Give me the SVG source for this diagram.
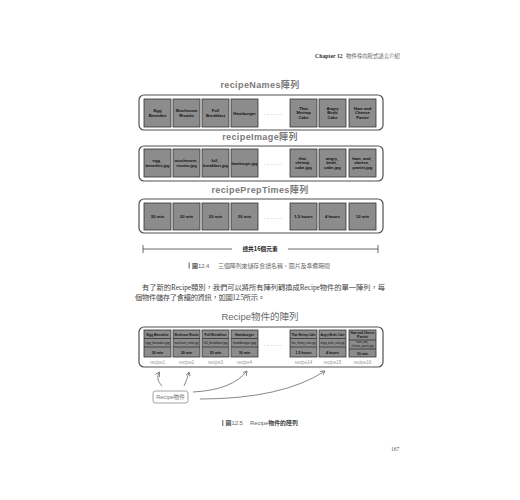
<svg xmlns="http://www.w3.org/2000/svg" width="520" height="500" viewBox="0 0 520 500">
<defs>
<style>
.cont{fill:#fff;stroke:#505050;stroke-width:1.2}
.cell{fill:#8c8c8c;stroke:#333;stroke-width:0.8}
.sep{stroke:#333;stroke-width:0.8}
.ct{font-family:"Liberation Sans","Noto Sans CJK TC",sans-serif;font-size:4.2px;font-weight:bold;fill:#111;text-anchor:middle}
.ct2{font-family:"Liberation Sans","Noto Sans CJK TC",sans-serif;font-size:3.6px;font-weight:bold;fill:#111;text-anchor:middle}
.ct3{font-family:"Liberation Sans","Noto Sans CJK TC",sans-serif;font-size:2.7px;fill:#111;text-anchor:middle}
.title{font-family:"Liberation Sans","Noto Sans CJK TC",sans-serif;font-size:9px;font-weight:bold;fill:#7a7a7a;text-anchor:middle;letter-spacing:0.4px}
.dots{font-family:"Liberation Sans",sans-serif;font-size:6px;fill:#666;text-anchor:middle;letter-spacing:1.6px}
.lbl{font-family:"Liberation Sans",sans-serif;font-size:4.6px;fill:#9a9a9a;text-anchor:middle}
.para{font-family:"Liberation Serif","Noto Sans CJK TC",serif;font-size:7.3px;fill:#444}
.cap{font-family:"Liberation Sans","Noto Sans CJK TC",sans-serif;font-size:5.9px;fill:#666}
.arr{fill:none;stroke:#7a7a7a;stroke-width:0.9}
</style>
<marker id="ah" viewBox="0 0 8 8" refX="7" refY="4" markerWidth="5" markerHeight="5" markerUnits="userSpaceOnUse" orient="auto">
<path d="M0,0 L7,4 L0,8" fill="none" stroke="#7a7a7a" stroke-width="1.4"/>
</marker>
</defs>
<rect width="520" height="500" fill="#fff"/>

<g id="header">
<text x="315" y="57.5" font-family="Liberation Serif,serif" font-size="5.8" font-weight="bold" fill="#333">Chapter 12</text>
<text x="346" y="57.5" font-family="Noto Sans CJK TC,sans-serif" font-size="5.4" fill="#666">物件導向程式語言介紹</text>
</g>

<!-- Figure 12.4 -->
<g id="recipeNames">
<text class="title" x="260" y="88">recipeNames陣列</text>
<rect class="cont" x="139" y="95" width="244" height="35" rx="5"/>
<rect class="cell" x="144" y="99" width="27" height="28"/>
<rect class="cell" x="173" y="99" width="27" height="28"/>
<rect class="cell" x="202" y="99" width="27" height="28"/>
<rect class="cell" x="231" y="99" width="27" height="28"/>
<rect class="cell" x="290" y="99" width="27" height="28"/>
<rect class="cell" x="319" y="99" width="27" height="28"/>
<rect class="cell" x="349" y="99" width="27" height="28"/>
<text class="ct" x="157.5" y="112">Egg</text><text class="ct" x="157.5" y="117">Benedict</text>
<text class="ct" x="186.5" y="112">Mushroom</text><text class="ct" x="186.5" y="117">Risotto</text>
<text class="ct" x="215.5" y="112">Full</text><text class="ct" x="215.5" y="117">Breakfast</text>
<text class="ct" x="244.5" y="114.5">Hamburger</text>
<text class="dots" x="274" y="115">......</text>
<text class="ct" x="303.5" y="109.5">Thai</text><text class="ct" x="303.5" y="114.3">Shrimp</text><text class="ct" x="303.5" y="119.1">Cake</text>
<text class="ct" x="332.5" y="109.5">Angry</text><text class="ct" x="332.5" y="114.3">Birds</text><text class="ct" x="332.5" y="119.1">Cake</text>
<text class="ct" x="362.5" y="109.5">Ham and</text><text class="ct" x="362.5" y="114.3">Cheese</text><text class="ct" x="362.5" y="119.1">Panini</text>
</g>

<g id="recipeImage">
<text class="title" x="260" y="139.5">recipeImage陣列</text>
<rect class="cont" x="139" y="146" width="244" height="35" rx="5"/>
<rect class="cell" x="144" y="149" width="27" height="28"/>
<rect class="cell" x="173" y="149" width="27" height="28"/>
<rect class="cell" x="202" y="149" width="27" height="28"/>
<rect class="cell" x="231" y="149" width="27" height="28"/>
<rect class="cell" x="290" y="149" width="27" height="28"/>
<rect class="cell" x="319" y="149" width="27" height="28"/>
<rect class="cell" x="349" y="149" width="27" height="28"/>
<text class="ct" x="157.5" y="162">egg_</text><text class="ct" x="157.5" y="167" textLength="24" lengthAdjust="spacingAndGlyphs">benedict.jpg</text>
<text class="ct" x="186.5" y="162">mushroom_</text><text class="ct" x="186.5" y="167">risotto.jpg</text>
<text class="ct" x="215.5" y="162">full_</text><text class="ct" x="215.5" y="167" textLength="25" lengthAdjust="spacingAndGlyphs">breakfast.jpg</text>
<text class="ct" x="244.5" y="164.5" textLength="26" lengthAdjust="spacingAndGlyphs">hamburger.jpg</text>
<text class="dots" x="274" y="165">......</text>
<text class="ct" x="303.5" y="159.5">thai_</text><text class="ct" x="303.5" y="164.3">shrimp_</text><text class="ct" x="303.5" y="169.1">cake.jpg</text>
<text class="ct" x="332.5" y="159.5">angry_</text><text class="ct" x="332.5" y="164.3">birds_</text><text class="ct" x="332.5" y="169.1">cake.jpg</text>
<text class="ct" x="362.5" y="159.5">ham_and_</text><text class="ct" x="362.5" y="164.3">cheese_</text><text class="ct" x="362.5" y="169.1">panini.jpg</text>
</g>

<g id="recipePrepTimes">
<text class="title" x="260" y="193">recipePrepTimes陣列</text>
<rect class="cont" x="139" y="199" width="244" height="34" rx="5"/>
<rect class="cell" x="144" y="203" width="27" height="27"/>
<rect class="cell" x="173" y="203" width="27" height="27"/>
<rect class="cell" x="202" y="203" width="27" height="27"/>
<rect class="cell" x="231" y="203" width="27" height="27"/>
<rect class="cell" x="290" y="203" width="27" height="27"/>
<rect class="cell" x="319" y="203" width="27" height="27"/>
<rect class="cell" x="349" y="203" width="27" height="27"/>
<text class="ct" x="157.5" y="218">30 min</text>
<text class="ct" x="186.5" y="218">30 min</text>
<text class="ct" x="215.5" y="218">20 min</text>
<text class="ct" x="244.5" y="218">30 min</text>
<text class="dots" x="274" y="218.5">......</text>
<text class="ct" x="303.5" y="218">1.5 hours</text>
<text class="ct" x="332.5" y="218">4 hours</text>
<text class="ct" x="362.5" y="218">10 min</text>
</g>

<g id="total">
<path d="M143,245 V253 M143,249 H232 M288,249 H378 M378,245 V253" stroke="#444" stroke-width="0.8" fill="none"/>
<text x="260" y="251" font-family="Noto Sans CJK TC,sans-serif" font-size="5.7" font-weight="bold" fill="#222" text-anchor="middle">總共16個元素</text>
</g>

<g id="caption1">
<rect x="188.5" y="262.5" width="1.4" height="6" fill="#888"/>
<text class="cap" x="192" y="267.5"><tspan font-weight="bold" fill="#444">圖</tspan>12.4</text>
<text class="cap" x="218" y="267.5" textLength="112">三個陣列來儲存食譜名稱、圖片及準備時間</text>
</g>

<g id="paragraph">
<text class="para" x="142" y="290" textLength="243">有了新的Recipe類別，我們可以將所有陣列轉換成Recipe物件的單一陣列，每</text>
<text class="para" x="135" y="300" textLength="130">個物件儲存了食譜的資訊，如圖12.5所示。</text>
</g>

<!-- Figure 12.5 -->
<g id="recipeObjects">
<text x="260" y="319.5" font-family="Liberation Sans,Noto Sans CJK TC,sans-serif" font-size="9.5" fill="#6a6a6a" text-anchor="middle">Recipe物件的陣列</text>
<rect class="cont" x="139" y="327" width="244" height="40" rx="5"/>
<g id="recipe1">
<rect class="cell" x="144" y="330" width="27" height="27"/>
<path class="sep" d="M144,338.5 H171 M144,347 H171"/>
<text class="ct2" x="157.5" y="335.5" textLength="22" lengthAdjust="spacingAndGlyphs">Egg Benedict</text>
<text class="ct3" x="157.5" y="343.7" textLength="24" lengthAdjust="spacingAndGlyphs">egg_benedict.jpg</text>
<text class="ct2" x="157.5" y="353.5">30 min</text>
<text class="lbl" x="157.5" y="364">recipe1</text>
</g>
<g id="recipe2">
<rect class="cell" x="173" y="330" width="27" height="27"/>
<path class="sep" d="M173,338.5 H200 M173,347 H200"/>
<text class="ct2" x="186.5" y="335.5" textLength="24" lengthAdjust="spacingAndGlyphs">Mushroom Risotto</text>
<text class="ct3" x="186.5" y="343.7" textLength="24" lengthAdjust="spacingAndGlyphs">mushroom_risotto.jpg</text>
<text class="ct2" x="186.5" y="353.5">30 min</text>
<text class="lbl" x="186.5" y="364">recipe2</text>
</g>
<g id="recipe3">
<rect class="cell" x="202" y="330" width="27" height="27"/>
<path class="sep" d="M202,338.5 H229 M202,347 H229"/>
<text class="ct2" x="215.5" y="335.5" textLength="22" lengthAdjust="spacingAndGlyphs">Full Breakfast</text>
<text class="ct3" x="215.5" y="343.7" textLength="24" lengthAdjust="spacingAndGlyphs">full_breakfast.jpg</text>
<text class="ct2" x="215.5" y="353.5">20 min</text>
<text class="lbl" x="215.5" y="364">recipe3</text>
</g>
<g id="recipe4">
<rect class="cell" x="231" y="330" width="27" height="27"/>
<path class="sep" d="M231,338.5 H258 M231,347 H258"/>
<text class="ct2" x="244.5" y="335.5">Hamburger</text>
<text class="ct3" x="244.5" y="343.7" textLength="23" lengthAdjust="spacingAndGlyphs">hamburger.jpg</text>
<text class="ct2" x="244.5" y="353.5">30 min</text>
<text class="lbl" x="244.5" y="364">recipe4</text>
</g>
<text class="dots" x="274" y="346">......</text>
<g id="recipe14">
<rect class="cell" x="290" y="330" width="27" height="27"/>
<path class="sep" d="M290,338.5 H317 M290,347 H317"/>
<text class="ct2" x="303.5" y="335.5" textLength="24" lengthAdjust="spacingAndGlyphs">Thai Shrimp Cake</text>
<text class="ct3" x="303.5" y="343.7" textLength="24" lengthAdjust="spacingAndGlyphs">thai_shrimp_cake.jpg</text>
<text class="ct2" x="303.5" y="353.5">1.5 hours</text>
<text class="lbl" x="303.5" y="364">recipe14</text>
</g>
<g id="recipe15">
<rect class="cell" x="319" y="330" width="27" height="27"/>
<path class="sep" d="M319,338.5 H346 M319,347 H346"/>
<text class="ct2" x="332.5" y="335.5" textLength="24" lengthAdjust="spacingAndGlyphs">Angry Birds Cake</text>
<text class="ct3" x="332.5" y="343.7" textLength="24" lengthAdjust="spacingAndGlyphs">angry_birds_cake.jpg</text>
<text class="ct2" x="332.5" y="353.5">4 hours</text>
<text class="lbl" x="332.5" y="364">recipe15</text>
</g>
<g id="recipe16">
<rect class="cell" x="349" y="330" width="27" height="27"/>
<path class="sep" d="M349,340 H376 M349,349 H376"/>
<text class="ct2" x="362.5" y="334" textLength="24" lengthAdjust="spacingAndGlyphs">Ham and Cheese</text>
<text class="ct2" x="362.5" y="338.3">Panini</text>
<text class="ct3" x="362.5" y="343.3">ham_and_</text>
<text class="ct3" x="362.5" y="347.3" textLength="22" lengthAdjust="spacingAndGlyphs">cheese_panini.jpg</text>
<text class="ct2" x="362.5" y="354.5">10 min</text>
<text class="lbl" x="362.5" y="364">recipe16</text>
</g>
</g>

<g id="recipeObjLabel">
<rect x="153" y="391" width="35" height="12" rx="2.5" fill="#fff" stroke="#8a8a8a" stroke-width="0.8"/>
<text x="170.5" y="399.2" font-family="Liberation Sans,Noto Sans CJK TC,sans-serif" font-size="5.6" fill="#777" text-anchor="middle">Recipe物件</text>
</g>

<g id="connectors">
<path class="arr" d="M162,386 Q155,379 159.5,372" marker-end="url(#ah)"/>
<path class="arr" d="M184,386 Q187,380 189,372" marker-end="url(#ah)"/>
<path class="arr" d="M193,392 Q232,390 247,371" marker-end="url(#ah)"/>
<path class="arr" d="M200,399 Q282,399 325,371" marker-end="url(#ah)"/>
</g>

<g id="caption2">
<rect x="222" y="420" width="1.4" height="6" fill="#888"/>
<text class="cap" x="225.5" y="425"><tspan font-weight="bold" fill="#444">圖</tspan>12.5</text>
<text class="cap" x="250" y="425">Recipe<tspan font-weight="bold" fill="#444">物件的陣列</tspan></text>
</g>

<text x="391" y="451" font-family="Liberation Serif,serif" font-size="5.5" fill="#555">167</text>
</svg>
